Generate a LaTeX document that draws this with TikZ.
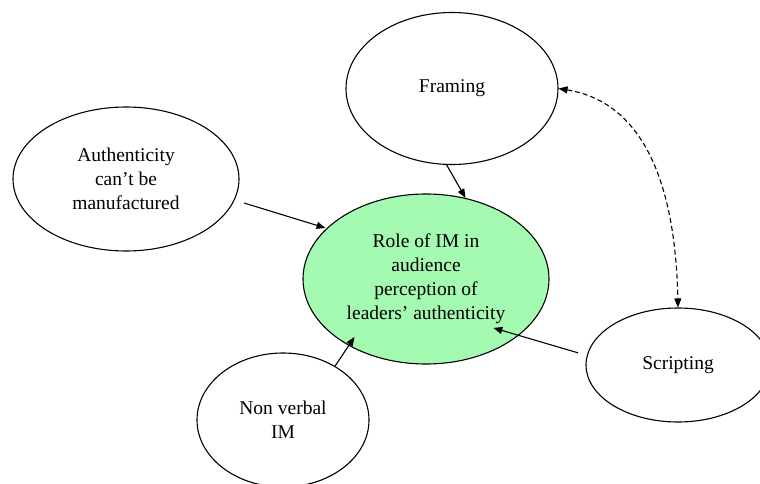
\documentclass[tikz,border=0pt]{standalone}
\usepackage{fontspec}
\setmainfont{Liberation Serif}
\usetikzlibrary{shapes.geometric,arrows.meta,calc}
\definecolor{centergreen}{RGB}{163,250,176}
\begin{document}
\begin{tikzpicture}[x=1pt,y=-1pt,
  bubble/.style={ellipse,draw,line width=1.1pt,inner sep=0pt,align=center,
    font=\fontsize{19.5}{24}\selectfont},
  link/.style={line width=1.1pt,-{Triangle[length=9pt,width=7pt]}},
  dashlink/.style={line width=1.1pt,dash pattern=on 5pt off 3pt,
    {Triangle[length=9pt,width=7pt]}-{Triangle[length=9pt,width=7pt]}}]
\useasboundingbox (0,0) rectangle (760,484);
\clip (0,0) rectangle (760,484);
\node[bubble,minimum width=212pt,minimum height=152pt] (fram) at (452,88.5) {Framing};
\node[bubble,minimum width=226pt,minimum height=144pt] (auth) at (126,179) {Authenticity\\can’t be\\manufactured};
\node[bubble,fill=centergreen,minimum width=246pt,minimum height=170pt] (role) at (426,279) {Role of IM in\\audience\\perception of\\leaders’ authenticity};
\node[bubble,minimum width=184pt,minimum height=114pt] (scr) at (678,365) {Scripting};
\node[bubble,minimum width=172pt,minimum height=134pt] (nv) at (283,420) {Non verbal\\IM};
\draw[link] (fram.-94) -- (role.64);
\draw[link,shorten <=10pt,shorten >=1pt] (auth.-11) -- (role.153);
\draw[link] (nv.46) -- ($(role.center)!0.89!(role.219)$);
\draw[link,shorten <=9pt] (scr.174) -- ($(role.center)!0.79!(role.-36)$);
\draw[dashlink] (fram.east) .. controls (630,100) and (675,160) .. (scr.north);
\end{tikzpicture}
\end{document}
